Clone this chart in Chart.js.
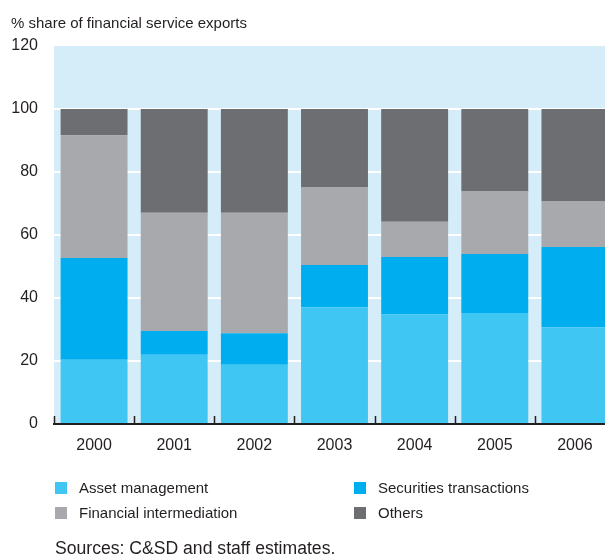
<!DOCTYPE html>
<html>
<head>
<meta charset="utf-8">
<script src="https://cdn.jsdelivr.net/npm/chart.js@4/dist/chart.umd.min.js"></script>
<style>
  html, body { margin: 0; padding: 0; width: 605px; height: 556px; overflow: hidden; background: #fff; }
  body { position: relative; font-family: "Liberation Sans", Arial, sans-serif; color: #231F20; }
  #wrap { position: absolute; left: 0; top: 0; width: 620px; height: 556px; }
  .txt { position: absolute; white-space: nowrap; line-height: 1; }
  .sw { position: absolute; width: 12px; height: 12px; }
</style>
</head>
<body>
<div id="wrap"><canvas id="c" width="620" height="556"></canvas></div>
<div class="txt" style="left:11px; top:15px; font-size:15px;">% share of financial service exports</div>
<div id="legend"></div>
<div class="txt" style="left:55px; top:540px; font-size:17.6px;">Sources: C&amp;SD and staff estimates.</div>
<script>
const categories = ['2000', '2001', '2002', '2003', '2004', '2005', '2006'];
const assetManagement = [20.4, 22.0, 18.8, 37.1, 34.8, 35.2, 30.7];
const securitiesTransactions = [32.3, 7.5, 10.0, 13.4, 18.2, 18.8, 25.5];
const financialIntermediation = [39.0, 37.6, 38.3, 24.6, 11.2, 19.8, 14.4];
const others = [8.3, 32.9, 32.9, 24.9, 35.8, 26.2, 29.4];
const yTicks = [0, 20, 40, 60, 80, 100, 120];

const seriesNames = ['Asset management', 'Securities transactions', 'Financial intermediation', 'Others'];
const seriesColors = ['#40C6F3', '#00AEEF', '#A7A9AC', '#6D6E71'];
const seriesData = [assetManagement, securitiesTransactions, financialIntermediation, others];

// HTML legend (2 columns)
const legendPos = [[55, 482], [354, 482], [55, 507], [354, 507]];
const legendEl = document.getElementById('legend');
seriesNames.forEach((name, i) => {
  const [lx, ly] = legendPos[i];
  const sw = document.createElement('div');
  sw.className = 'sw';
  sw.style.left = lx + 'px'; sw.style.top = ly + 'px'; sw.style.background = seriesColors[i];
  legendEl.appendChild(sw);
  const t = document.createElement('div');
  t.className = 'txt';
  t.style.left = (lx + 24) + 'px'; t.style.top = (ly - 2) + 'px'; t.style.fontSize = '15px';
  t.textContent = name;
  legendEl.appendChild(t);
});

const bgPlugin = {
  id: 'bg',
  beforeDraw(chart) {
    const { ctx, chartArea: a } = chart;
    ctx.save();
    ctx.fillStyle = '#D5ECF9';
    ctx.fillRect(a.left, a.top, a.right - a.left, a.bottom - a.top);
    ctx.restore();
  }
};

const innerTicks = {
  id: 'innerTicks',
  afterDraw(chart) {
    const { ctx, chartArea: a } = chart;
    const xs = chart.scales.x;
    const step = xs.getPixelForValue(1) - xs.getPixelForValue(0);
    ctx.save();
    ctx.strokeStyle = '#231F20';
    ctx.lineWidth = 1.5;
    for (let i = 0; i <= categories.length; i++) {
      const x = Math.round(xs.getPixelForValue(i) - step / 2) + 0.5;
      ctx.beginPath();
      ctx.moveTo(x, a.bottom - 8);
      ctx.lineTo(x, a.bottom);
      ctx.stroke();
    }
    ctx.restore();
  }
};

new Chart(document.getElementById('c'), {
  type: 'bar',
  data: {
    labels: categories,
    datasets: seriesNames.map((n, i) => ({
      label: n,
      data: seriesData[i],
      backgroundColor: seriesColors[i],
      borderWidth: 0,
      barPercentage: 0.835,
      categoryPercentage: 1
    }))
  },
  options: {
    responsive: false,
    animation: false,
    layout: { padding: { top: 46, left: 0, right: 5, bottom: 92 } },
    plugins: { legend: { display: false }, tooltip: { enabled: false } },
    scales: {
      x: {
        stacked: true,
        grid: { display: false, drawTicks: false },
        border: { display: true, color: '#231F20', width: 2 },
        ticks: { color: '#231F20', font: { family: 'Liberation Sans', size: 16 }, padding: 12 },
        afterFit(s) { s.height = 40; }
      },
      y: {
        stacked: true,
        min: 0, max: 120,
        afterBuildTicks(s) { s.ticks = yTicks.map(v => ({ value: v })); },
        grid: {
          drawTicks: false,
          color: ctx => (ctx.tick && (ctx.tick.value === 0 || ctx.tick.value === 120)) ? 'rgba(0,0,0,0)' : '#FFFFFF',
          lineWidth: 2
        },
        border: { display: false },
        ticks: { color: '#231F20', font: { family: 'Liberation Sans', size: 16 }, padding: 16 },
        afterFit(s) { s.width = 54; }
      }
    }
  },
  plugins: [bgPlugin, innerTicks]
});
</script>
</body>
</html>
